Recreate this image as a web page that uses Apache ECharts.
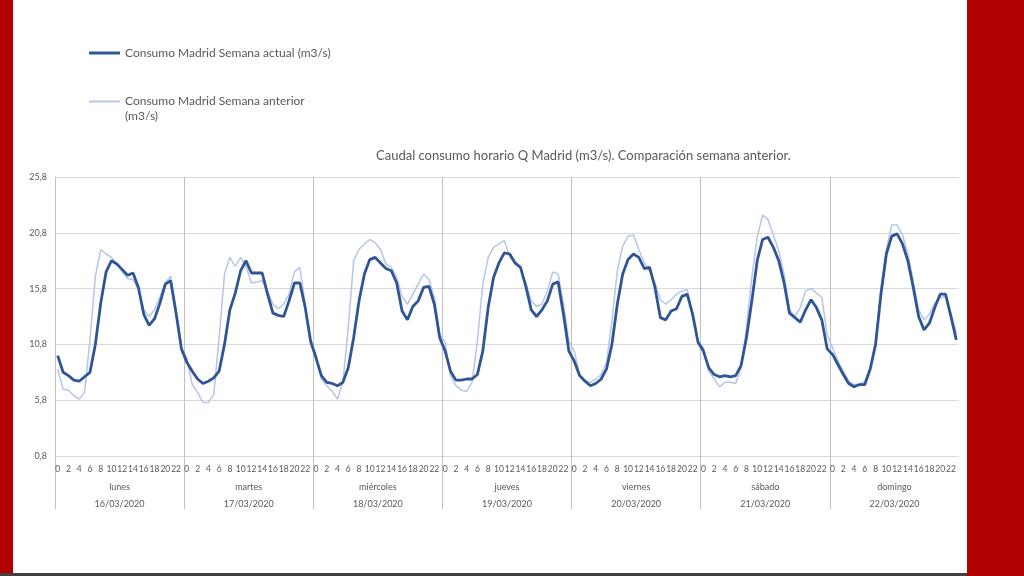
<!DOCTYPE html>
<html lang="es">
<head>
    <meta charset="UTF-8" />
    <title>Caudal consumo horario Q Madrid</title>
    <script src="https://cdn.jsdelivr.net/npm/echarts@6/dist/echarts.min.js"></script>
    <style>
        html, body { margin: 0; padding: 0; background: #fff; }
    </style>
</head>
<body>
<div id="main" style="width: 1024px;height:576px;"></div>
<script type="text/javascript">
    // etiquetas del eje
    var horas = [0,1,2,3,4,5,6,7,8,9,10,11,12,13,14,15,16,17,18,19,20,21,22,23];
    var dias = ['lunes', 'martes', 'miércoles', 'jueves', 'viernes', 'sábado', 'domingo'];
    var fechas = ['16/03/2020', '17/03/2020', '18/03/2020', '19/03/2020', '20/03/2020', '21/03/2020', '22/03/2020'];
    var ticksY = [0.8, 5.8, 10.8, 15.8, 20.8, 25.8];

    // Consumo Madrid Semana actual (m3/s), un array por día
    var actualLunes     = [9.8, 8.3, 8.0, 7.6, 7.5, 7.9, 8.3, 10.8, 14.5, 17.3, 18.3, 18.0, 17.5, 17.0, 17.2, 15.9, 13.5, 12.5, 13.1, 14.5, 16.2, 16.5, 13.6, 10.4];
    var actualMartes    = [9.2, 8.4, 7.7, 7.3, 7.5, 7.8, 8.4, 10.8, 13.9, 15.4, 17.4, 18.3, 17.2, 17.2, 17.2, 15.3, 13.6, 13.4, 13.3, 14.7, 16.3, 16.3, 14.1, 11.1];
    var actualMiercoles = [9.6, 8.0, 7.4, 7.3, 7.1, 7.4, 8.7, 11.4, 14.7, 17.1, 18.4, 18.6, 18.1, 17.6, 17.4, 16.3, 13.8, 13.0, 14.2, 14.7, 15.9, 16.0, 14.4, 11.4];
    var actualJueves    = [10.2, 8.4, 7.6, 7.6, 7.7, 7.7, 8.1, 10.2, 14.1, 16.8, 18.1, 19.0, 18.9, 18.1, 17.7, 16.0, 13.9, 13.3, 13.9, 14.7, 16.2, 16.4, 13.5, 10.2];
    var actualViernes   = [9.3, 8.0, 7.5, 7.1, 7.3, 7.7, 8.6, 10.8, 14.4, 17.1, 18.4, 18.9, 18.6, 17.6, 17.7, 15.9, 13.2, 13.0, 13.8, 14.0, 15.1, 15.3, 13.5, 11.0];
    var actualSabado    = [10.2, 8.7, 8.1, 7.9, 8.0, 7.9, 8.0, 8.9, 11.4, 14.7, 18.3, 20.2, 20.4, 19.5, 18.3, 16.3, 13.6, 13.2, 12.8, 13.9, 14.8, 14.1, 13.0, 10.4];
    var actualDomingo   = [9.9, 9.0, 8.1, 7.3, 7.0, 7.2, 7.2, 8.6, 10.8, 15.3, 18.9, 20.5, 20.7, 19.8, 18.3, 15.9, 13.3, 12.1, 12.7, 14.1, 15.3, 15.3, 13.3, 11.2];

    // Consumo Madrid Semana anterior (m3/s)
    var anteriorLunes     = [8.6, 6.8, 6.7, 6.2, 5.9, 6.5, 11.2, 16.9, 19.3, 18.9, 18.6, 18.0, 17.3, 16.7, 16.6, 15.7, 13.9, 13.3, 13.9, 15.1, 16.3, 16.9, 13.9, 10.4];
    var anteriorMartes    = [9.6, 7.2, 6.5, 5.6, 5.6, 6.3, 11.4, 17.1, 18.6, 17.8, 18.6, 17.8, 16.3, 16.4, 16.5, 15.6, 14.4, 14.0, 14.4, 15.3, 17.3, 17.7, 14.4, 10.8];
    var anteriorMiercoles = [9.9, 7.7, 7.1, 6.6, 5.9, 7.4, 12.3, 18.3, 19.3, 19.8, 20.2, 19.9, 19.3, 18.0, 17.7, 16.8, 15.1, 14.4, 15.3, 16.2, 17.1, 16.6, 15.0, 11.7];
    var anteriorJueves    = [11.0, 8.0, 7.1, 6.7, 6.6, 7.4, 11.1, 16.2, 18.6, 19.5, 19.8, 20.1, 18.7, 18.0, 17.7, 16.3, 14.7, 14.2, 14.4, 15.6, 17.3, 17.1, 14.4, 11.1];
    var anteriorViernes   = [10.2, 8.1, 7.6, 7.4, 7.7, 8.1, 9.2, 12.9, 17.4, 19.6, 20.5, 20.6, 19.3, 18.1, 17.4, 16.3, 14.8, 14.4, 14.8, 15.3, 15.6, 15.7, 13.2, 11.1];
    var anteriorSabado    = [10.5, 8.4, 7.7, 7.0, 7.4, 7.4, 7.3, 8.7, 12.3, 16.8, 20.4, 22.4, 22.0, 20.6, 19.2, 17.1, 13.9, 13.3, 14.1, 15.6, 15.8, 15.4, 15.0, 11.7];
    var anteriorDomingo   = [10.5, 9.3, 8.4, 7.5, 7.2, 7.2, 7.5, 8.7, 11.1, 15.9, 19.3, 21.5, 21.5, 20.6, 18.9, 16.5, 13.9, 13.0, 13.5, 14.5, 15.0, 15.1, 13.6, 11.8];

    var semanaActual = [].concat(actualLunes, actualMartes, actualMiercoles, actualJueves, actualViernes, actualSabado, actualDomingo);
    var semanaAnterior = [].concat(anteriorLunes, anteriorMartes, anteriorMiercoles, anteriorJueves, anteriorViernes, anteriorSabado, anteriorDomingo);

    var categorias = [];
    for (var d = 0; d < dias.length; d++) {
        for (var h = 0; h < horas.length; h++) {
            categorias.push(dias[d] + ' ' + horas[h]);
        }
    }

    var gris = '#595959';
    var fuente = 'Lato';
    var nombreActual = 'Consumo Madrid Semana actual (m3/s)';
    var nombreAnterior = 'Consumo Madrid Semana anterior (m3/s)';

    var myChart = echarts.init(document.getElementById('main'));
    var option = {
        backgroundColor: '#ffffff',
        textStyle: { fontFamily: fuente },
        title: {
            text: 'Caudal consumo horario Q Madrid (m3/s). Comparación semana anterior.',
            left: 371,
            top: 144,
            textStyle: { color: gris, fontSize: 13, fontWeight: 'normal', fontFamily: fuente }
        },
        legend: [
            {
                data: [{ name: nombreActual, icon: 'rect' }],
                left: 84,
                top: 42,
                itemWidth: 31,
                itemHeight: 3,
                itemGap: 2,
                textStyle: { color: gris, fontSize: 12, fontFamily: fuente }
            },
            {
                // la línea queda a la altura de la primera fila del texto
                data: [{ name: nombreAnterior, icon: 'path://M0,0 L31,0 L31,2 L0,2 Z M0,17 L0.01,17 Z' }],
                left: 84,
                top: 89,
                itemWidth: 31,
                itemHeight: 17,
                itemGap: 2,
                formatter: function () {
                    return 'Consumo Madrid Semana anterior\n(m3/s)';
                },
                textStyle: { color: gris, fontSize: 12, lineHeight: 15, fontFamily: fuente }
            }
        ],
        graphic: [
            { type: 'rect', left: 0, top: 0, shape: { width: 13, height: 576 }, style: { fill: '#b00000' } },
            { type: 'rect', left: 967, top: 0, shape: { width: 57, height: 576 }, style: { fill: '#b00000' } },
            { type: 'rect', left: 0, top: 573, shape: { width: 967, height: 3 }, style: { fill: '#404040' } },
            // tapa la última línea de separación de días (no aparece en el original)
            { type: 'rect', left: 958.6, top: 176, z: 1, shape: { width: 3, height: 336 }, style: { fill: '#ffffff' } }
        ],
        grid: {
            left: 55,
            right: 65,
            top: 177,
            bottom: 120,
            containLabel: false
        },
        xAxis: [
            {
                type: 'category',
                data: categorias,
                boundaryGap: true,
                axisLine: { lineStyle: { color: '#d9d9d9' } },
                axisTick: { show: false },
                axisLabel: {
                    interval: 0,
                    margin: 9,
                    color: gris,
                    fontSize: 8.5,
                    fontFamily: fuente,
                    formatter: function (value, idx) {
                        return idx % 2 === 0 ? String(horas[idx % 24]) : '';
                    }
                },
                splitLine: { show: false }
            },
            {
                type: 'category',
                data: dias,
                position: 'bottom',
                boundaryGap: true,
                axisLine: { show: false },
                axisTick: { show: true, length: 53, interval: 0, lineStyle: { color: '#bfbfbf' } },
                axisLabel: {
                    interval: 0,
                    margin: 23,
                    color: gris,
                    fontSize: 9,
                    lineHeight: 17,
                    fontFamily: fuente,
                    formatter: function (value, idx) {
                        return dias[idx] + '\n' + fechas[idx];
                    }
                },
                splitLine: { show: true, lineStyle: { color: '#bfbfbf', width: 1 } }
            }
        ],
        yAxis: {
            type: 'value',
            min: ticksY[0],
            max: ticksY[ticksY.length - 1],
            interval: 5,
            axisLine: { show: true, lineStyle: { color: '#bfbfbf' } },
            axisTick: { show: false },
            axisLabel: {
                margin: 8,
                color: gris,
                fontSize: 9,
                fontFamily: fuente,
                formatter: function (v) {
                    return v.toFixed(1).replace('.', ',');
                }
            },
            splitLine: { lineStyle: { color: '#d9d9d9' } }
        },
        series: [
            {
                name: nombreActual,
                type: 'line',
                data: semanaActual,
                symbol: 'none',
                z: 3,
                color: '#2f5597',
                lineStyle: { color: '#2f5597', width: 2.8 }
            },
            {
                name: nombreAnterior,
                type: 'line',
                data: semanaAnterior,
                symbol: 'none',
                z: 2,
                color: '#b4c7e7',
                lineStyle: { color: '#b4c7e7', width: 1.5 }
            }
        ]
    };
    myChart.setOption(option);
</script>
</body>
</html>
